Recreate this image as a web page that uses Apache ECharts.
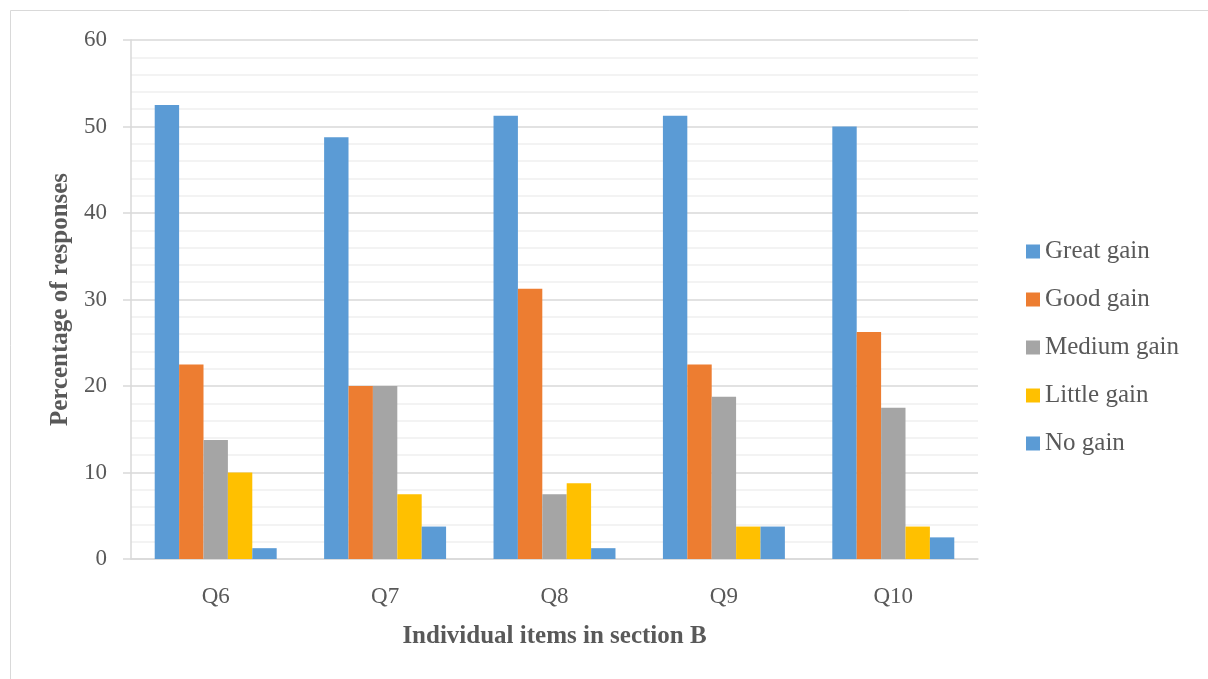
<!DOCTYPE html>
<html>
<head>
<meta charset="utf-8">
<script src="https://cdn.jsdelivr.net/npm/echarts@6/dist/echarts.min.js"></script>
<style>
  html, body { margin: 0; padding: 0; background: #fff; }
  #chart { width: 1208px; height: 679px; }
</style>
</head>
<body>
<div id="chart"></div>
<script>
// Survey items and share of responses (%) per gain level
const categories = ['Q6', 'Q7', 'Q8', 'Q9', 'Q10'];
const greatGain  = [52.5, 48.75, 51.25, 51.25, 50];
const goodGain   = [22.5, 20, 31.25, 22.5, 26.25];
const mediumGain = [13.75, 20, 7.5, 18.75, 17.5];
const littleGain = [10, 7.5, 8.75, 3.75, 3.75];
const noGain     = [1.25, 3.75, 1.25, 3.75, 2.5];
const yTicks = [0, 10, 20, 30, 40, 50, 60];

const FONT = '"Liberation Serif", "DejaVu Serif", serif';
const TEXT = '#595959';

const seriesDefs = [
  { name: 'Great gain',  data: greatGain,  color: '#5B9BD5' },
  { name: 'Good gain',   data: goodGain,   color: '#ED7D31' },
  { name: 'Medium gain', data: mediumGain, color: '#A5A5A5' },
  { name: 'Little gain', data: littleGain, color: '#FFC000' },
  { name: 'No gain',     data: noGain,     color: '#5B9BD5' }
];

const chart = echarts.init(document.getElementById('chart'), null, { renderer: 'canvas' });

chart.setOption({
  backgroundColor: '#fff',
  animation: false,
  textStyle: { fontFamily: FONT, color: TEXT },
  graphic: [{
    type: 'rect',
    shape: { x: 10.5, y: 10.5, width: 1400, height: 900 },
    style: { fill: 'none', stroke: '#d9d9d9', lineWidth: 1 },
    silent: true,
    z: -10
  }],
  grid: { left: 131, right: 230, top: 40, bottom: 120, containLabel: false },
  legend: {
    orient: 'vertical',
    left: 1021,
    top: 234,
    itemWidth: 14,
    itemHeight: 14,
    itemGap: 23,
    itemTextGap: 7,
    icon: 'rect',
    textStyle: { fontFamily: FONT, fontSize: 25, color: TEXT, lineHeight: 24 },
    data: seriesDefs.map(s => s.name)
  },
  xAxis: {
    type: 'category',
    data: categories,
    name: 'Individual items in section B',
    nameLocation: 'middle',
    nameGap: 65,
    nameTextStyle: { fontFamily: FONT, fontSize: 25, fontWeight: 'bold', color: TEXT },
    axisLine: { lineStyle: { color: '#d9d9d9', width: 1.5 } },
    axisTick: { show: false },
    axisLabel: { fontFamily: FONT, fontSize: 23, color: TEXT, margin: 26 }
  },
  yAxis: {
    type: 'value',
    min: yTicks[0],
    max: yTicks[yTicks.length - 1],
    interval: 10,
    name: 'Percentage of responses',
    nameLocation: 'middle',
    nameGap: 57,
    nameRotate: 90,
    nameTextStyle: { fontFamily: FONT, fontSize: 25, fontWeight: 'bold', color: TEXT },
    axisLine: { show: true, lineStyle: { color: '#d9d9d9', width: 1.5 } },
    axisTick: { show: true, length: 8, lineStyle: { color: '#d9d9d9', width: 1.5 } },
    axisLabel: { fontFamily: FONT, fontSize: 23, color: TEXT, margin: 24 },
    splitLine: { show: true, lineStyle: { color: '#d9d9d9', width: 1.5 } },
    minorTick: { show: false, splitNumber: 5 },
    minorSplitLine: { show: true, lineStyle: { color: '#f0f0f0', width: 1.5 } }
  },
  series: seriesDefs.map(s => ({
    name: s.name,
    type: 'bar',
    data: s.data,
    barGap: '0%',
    barCategoryGap: '28%',
    itemStyle: { color: s.color },
    emphasis: { disabled: true }
  }))
});
</script>
</body>
</html>
